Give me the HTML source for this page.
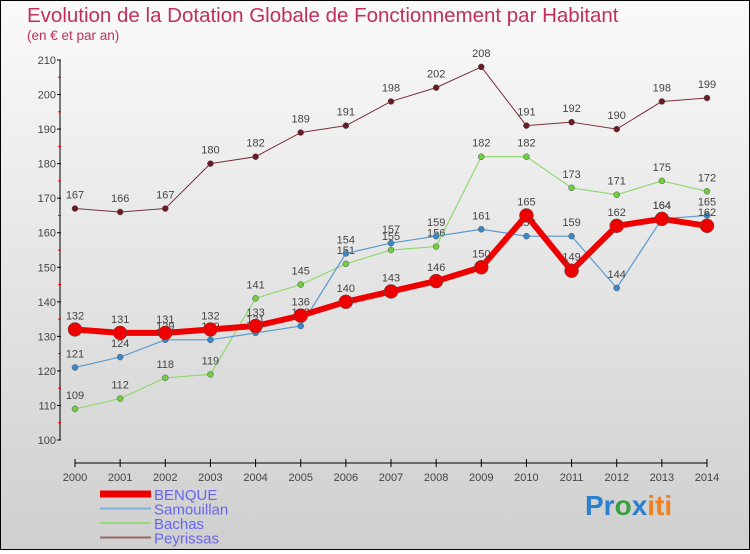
<!DOCTYPE html>
<html><head><meta charset="utf-8"><style>
html,body{margin:0;padding:0}
body{width:750px;height:550px;overflow:hidden;font-family:"Liberation Sans",sans-serif}
#wrap{position:relative;width:748px;height:548px;border:1px solid #000;background:linear-gradient(#fafafa,#cfcfcf)}
</style></head><body>
<div id="wrap">
<svg id="chart" width="748" height="548" viewBox="1 1 748 548">
<text x="27" y="22" font-size="20.5" fill="#c0305a">Evolution de la Dotation Globale de Fonctionnement par Habitant</text>
<text x="27" y="40" font-size="13.5" fill="#c0305a">(en € et par an)</text>
<g id="axes"></g><g id="series"></g><g id="legend"></g>
<text x="585" y="515" font-size="28" font-weight="bold"><tspan fill="#2a7fd0">Pr</tspan><tspan fill="#3aa040">o</tspan><tspan fill="#2a7fd0">x</tspan><tspan fill="#f08020">iti</tspan></text>
</svg></div>
<script>
const years=[2000,2001,2002,2003,2004,2005,2006,2007,2008,2009,2010,2011,2012,2013,2014];
const yTicks=[100,110,120,130,140,150,160,170,180,190,200,210];
const benque=[132,131,131,132,133,136,140,143,146,150,165,149,162,164,162];
const samouillan=[121,124,129,129,131,133,154,157,159,161,159,159,144,164,165];
const bachas=[109,112,118,119,141,145,151,155,156,182,182,173,171,175,172];
const peyrissas=[167,166,167,180,182,189,191,198,202,208,191,192,190,198,199];
const NS='http://www.w3.org/2000/svg';
function X(i){return 75+i*(632/14);}
function Y(v){return 440-(v-100)*(380/110);}
function mk(tag,attrs,parent){const e=document.createElementNS(NS,tag);for(const k in attrs)e.setAttribute(k,attrs[k]);parent.appendChild(e);return e;}
const ax=document.getElementById('axes');
let a=mk('line',{x1:60,y1:60,x2:60,y2:440,stroke:'#000','stroke-width':1},ax);


a=mk('line',{x1:75,y1:463,x2:707,y2:463,stroke:'#000','stroke-width':1},ax);


yTicks.forEach((t,i)=>{
 mk('line',{x1:57,y1:Y(t),x2:61,y2:Y(t),stroke:'#000'},ax);
 if(i<yTicks.length-1){mk('line',{x1:58,y1:Y(t+5),x2:61,y2:Y(t+5),stroke:'#e00'},ax);}
 const tx=mk('text',{x:56,y:Y(t)+4,'font-size':11,fill:'#444','text-anchor':'end'},ax);tx.textContent=t;
 
 
});
years.forEach((yr,i)=>{
 mk('line',{x1:X(i),y1:459,x2:X(i),y2:467,stroke:'#000'},ax);
 const tx=mk('text',{x:X(i),y:465+16,'font-size':11,fill:'#444','text-anchor':'middle'},ax);tx.textContent=yr;
 
 
});
const sg=document.getElementById('series');
function draw(data,color,dot,w,r,name){
 const g=mk('g',{},sg);
 
 
 const p=mk('polyline',{points:data.map((v,i)=>X(i)+','+Y(v)).join(' '),fill:'none',stroke:color,'stroke-width':w,'stroke-linejoin':'round'},g);
 
 
 data.forEach((v,i)=>{
  const c=mk('circle',{cx:X(i),cy:Y(v),r:r,fill:dot,stroke:'#555','stroke-width':0.5},g);
  
  
  const t=mk('text',{x:X(i),y:Y(v)-10,'font-size':11,fill:'#444','text-anchor':'middle'},g);t.textContent=v;
  
  
 });
}
draw(peyrissas,'#7a3038','#6a1a22',1,3,'peyrissas');
draw(bachas,'#90d870','#70cc40',1.2,3,'bachas');
draw(samouillan,'#5a9ad0','#3a88c8',1.2,3,'samouillan');
draw(benque,'#ee0000','#ee0000',6,7,'benque');
const lg=document.getElementById('legend');
[['BENQUE','#ee0000',7],['Samouillan','#80b0d8',2],['Bachas','#9ad880',2],['Peyrissas','#9a6868',2]].forEach((e,i)=>{
 const y=494+i*14.5;
 const l=mk('line',{x1:100,y1:y,x2:151,y2:y,stroke:e[1],'stroke-width':e[2]},lg);
 
 
 const t=mk('text',{x:154,y:y+6,'font-size':15,fill:'#6666ee'},lg);t.textContent=e[0];
 
 
});
</script>
</body></html>
